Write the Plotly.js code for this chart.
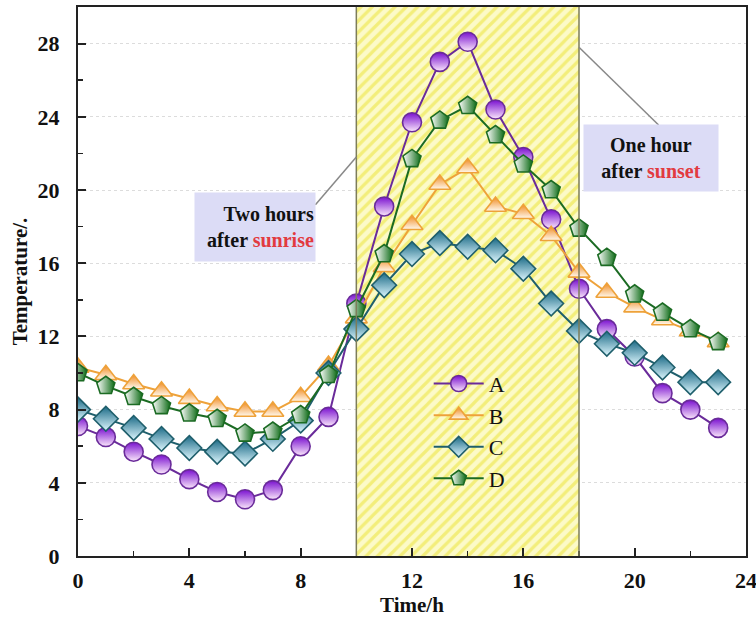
<!DOCTYPE html>
<html>
<head>
<meta charset="utf-8">
<script src="https://cdn.plot.ly/plotly-3.0.1.min.js"></script>
<style>html,body{margin:0;padding:0;background:#fff;}#chart{width:756px;height:622px;}</style>
</head>
<body>
<div id="chart"></div>
<script>
// ---- data ----
const hours = [0,1,2,3,4,5,6,7,8,9,10,11,12,13,14,15,16,17,18,19,20,21,22,23];
const seriesA = [7.1,6.5,5.7,5.0,4.2,3.5,3.1,3.6,6.0,7.6,13.8,19.1,23.7,27.0,28.1,24.4,21.8,18.4,14.6,12.4,10.9,8.9,8.0,7.0];
const seriesB = [10.3,9.9,9.4,9.0,8.6,8.2,7.9,7.9,8.7,10.4,13.0,15.8,18.1,20.3,21.2,19.1,18.7,17.5,15.5,14.4,13.6,12.9,12.3,11.7];
const seriesC = [8.0,7.5,7.0,6.4,5.9,5.7,5.6,6.4,7.4,10.0,12.4,14.8,16.5,17.1,16.9,16.7,15.7,13.8,12.3,11.6,11.1,10.3,9.5,9.5];
const seriesD = [10.0,9.3,8.7,8.2,7.8,7.5,6.7,6.8,7.7,9.9,13.5,16.5,21.7,23.8,24.6,23.0,21.4,20.0,17.9,16.3,14.3,13.3,12.4,11.7];
const seriesNames = ["A","B","C","D"];
const dayWindow = [10, 18];          // two hours after sunrise -> one hour after sunset
const yRange = [0, 30];
const xRange = [0, 24];
const tickVals = [0,4,8,12,16,20,24];
const yTickVals = [0,4,8,12,16,20,24,28];

const serif = "Liberation Serif, Times New Roman, serif";

const region = {
  x: [dayWindow[0], dayWindow[1], dayWindow[1], dayWindow[0], dayWindow[0]],
  y: [yRange[0], yRange[0], yRange[1], yRange[1], yRange[0]],
  mode: "lines", fill: "toself",
  fillcolor: "#fbf8b0",
  fillpattern: {shape: "/", bgcolor: "#fcfac8", fgcolor: "#f3ee7a", size: 8, solidity: 0.4},
  line: {color: "rgba(0,0,0,0)", width: 0},
  hoverinfo: "skip", showlegend: false
};

function mk(name, y, lineColor, symbol, topColor, bottomColor, gtype) {
  return {
    x: hours, y: y, name: name, mode: "lines+markers",
    line: {color: lineColor, width: 2},
    marker: {symbol: symbol, size: 19, color: topColor,
             gradient: {type: gtype, color: bottomColor},
             line: {color: lineColor, width: 1.6}}
  };
}

const traces = [
  region,
  mk(seriesNames[0], seriesA, "#6a2b9a", "circle", "#7a10d0", "#fbe8fb", "vertical"),
  mk(seriesNames[1], seriesB, "#eea23a", "triangle-up", "#f08a20", "#fff8ec", "vertical"),
  mk(seriesNames[2], seriesC, "#1f5f6c", "diamond", "#1b6a86", "#dff8ff", "vertical"),
  mk(seriesNames[3], seriesD, "#1b6b23", "pentagon", "#ffffff", "#0b6a14", "horizontal")
];

const layout = {
  width: 756, height: 622,
  margin: {l: 78, r: 10, t: 7, b: 66},
  paper_bgcolor: "#fff", plot_bgcolor: "#fff",
  font: {family: serif, color: "#111"},
  showlegend: true,
  legend: {x: 0.525, y: 0.352, xanchor: "left", yanchor: "top",
           bgcolor: "rgba(0,0,0,0)", font: {family: serif, size: 22, color: "#111"},
           tracegroupgap: 0, itemwidth: 50},
  xaxis: {
    range: xRange, tickvals: tickVals, ticks: "inside", ticklen: 8, tickwidth: 2, tickcolor: "#222",
    showline: true, linecolor: "#222", linewidth: 2, mirror: true,
    showgrid: false, zeroline: false, ticklabelstandoff: 4, ticklabeloverflow: "allow",
    tickfont: {family: serif, size: 22, color: "#111", weight: "bold"},
    minor: {dtick: 2, ticks: "inside", ticklen: 5, tickwidth: 1.5, tickcolor: "#222", showgrid: false},
    title: {text: "<b>Time/h</b>", font: {family: serif, size: 21, color: "#111"}, standoff: 0}
  },
  yaxis: {
    range: yRange, tickvals: yTickVals, ticks: "inside", ticklen: 8, tickwidth: 2, tickcolor: "#222",
    showline: true, linecolor: "#222", linewidth: 2, mirror: true,
    showgrid: true, gridcolor: "#dcdcdc", griddash: "dot", gridwidth: 1, zeroline: false,
    ticklabelstandoff: 12, ticklabeloverflow: "allow",
    tickfont: {family: serif, size: 22, color: "#111", weight: "bold"},
    minor: {dtick: 2, ticks: "inside", ticklen: 5, tickwidth: 1.5, tickcolor: "#222", showgrid: false},
    title: {text: "<b>Temperature/.</b>", font: {family: serif, size: 21, color: "#111"}, standoff: 4}
  },
  shapes: [
    {type: "line", xref: "x", yref: "y", x0: dayWindow[0], x1: dayWindow[0], y0: yRange[0], y1: yRange[1],
     line: {color: "#7d7d5a", width: 1.5}, layer: "above"},
    {type: "line", xref: "x", yref: "y", x0: dayWindow[1], x1: dayWindow[1], y0: yRange[0], y1: yRange[1],
     line: {color: "#7d7d5a", width: 1.5}, layer: "above"},
    {type: "line", xref: "x", yref: "y", x0: 10, y0: 21.8, x1: 8.53, y1: 19.2,
     line: {color: "#888", width: 1.5}},
    {type: "line", xref: "x", yref: "y", x0: 18, y0: 27.8, x1: 20.86, y1: 23.55,
     line: {color: "#888", width: 1.5}}
  ],
  annotations: [
    {xref: "x", yref: "y", x: 6.37, y: 18.0, showarrow: false,
     text: "<b>Two hours<br>after <span style='color:#e23a40'>sunrise</span></b>",
     align: "right", bgcolor: "#dcdcf6", width: 118, height: 66,
     font: {family: serif, size: 20, color: "#111"}},
    {xref: "x", yref: "y", x: 20.58, y: 21.76, showarrow: false,
     text: "<b>One hour<br>after <span style='color:#e23a40'>sunset</span></b>",
     align: "center", bgcolor: "#dcdcf6", width: 132, height: 64,
     font: {family: serif, size: 20, color: "#111"}}
  ]
};

Plotly.newPlot("chart", traces, layout, {displayModeBar: false, staticPlot: true});
</script>
</body>
</html>
